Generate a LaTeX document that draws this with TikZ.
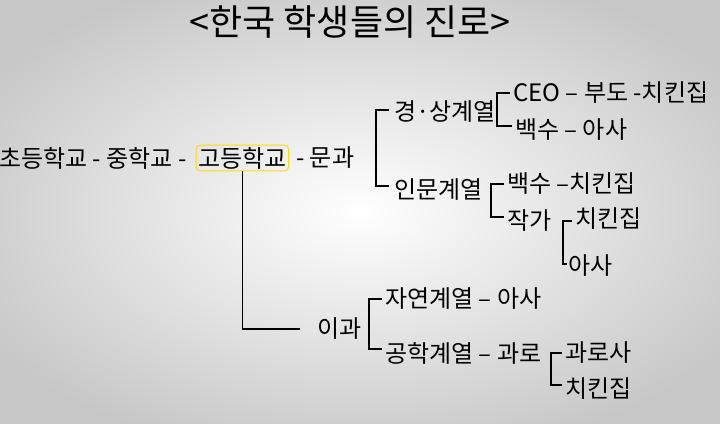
\documentclass[tikz,border=0pt]{standalone}
\usepackage{fontspec}
\setmainfont{Noto Sans CJK KR}
\usetikzlibrary{positioning}
\begin{document}
\begin{tikzpicture}[x=1pt,y=-1pt,
    txt/.style={anchor=west,inner sep=1pt,font=\fontsize{24}{24}\selectfont},
    brk/.style={line width=1.2pt}]
        \useasboundingbox (0,0) rectangle (720,423);
        \shade[inner color=white,outer color=black!22] (-80,-40) rectangle (800,463);

        \node[font=\fontsize{36}{36}\selectfont] (title) at (350,22) {<한국 학생들의 진로>};

        \node[txt] (row)  at (-2,158) {초등학교 - 중학교 -};
        \node[txt,draw=yellow!80!orange,line width=1pt,rounded corners=4pt,inner sep=2pt,right=8pt of row] (go) {고등학교};
        \node[txt,right=6pt of go] (mun) {- 문과};

        \node[txt] (ks)   at (393,112) {경·상계열};
        \node[txt] (ceo)  at (512,93)  {CEO – 부도 -치킨집};
        \node[txt] (bs1)  at (514,130) {백수 – 아사};
        \node[txt] (im)   at (393,190) {인문계열};
        \node[txt] (bs2)  at (506,184) {백수 –치킨집};
        \node[txt] (jk)   at (506,221) {작가};
        \node[txt] (ck1)  at (574,219) {치킨집};
        \node[txt] (as1)  at (567,266) {아사};

        \node[txt] (ig)   at (316,329) {이과};
        \node[txt] (jy)   at (384,299) {자연계열 – 아사};
        \node[txt] (gh)   at (384,353) {공학계열 – 과로};
        \node[txt] (gr)   at (564,353) {과로사};
        \node[txt] (ck2)  at (564,389) {치킨집};

        \draw[brk] (ks.west) ++(-4,-2) -- ++(-13,0) |- ([xshift=-4pt,yshift=4pt]im.west);
        \draw[brk] ([xshift=-2pt]ceo.west) -- ++(-13,0) |- ([xshift=-2pt,yshift=4pt]bs1.west);
        \draw[brk] ([xshift=-2pt]bs2.west) -- ++(-13,0) |- ([xshift=-2pt,yshift=4pt]jk.west);
        \draw[brk] ([xshift=-2pt,yshift=-2pt]ck1.west) -- ++(-9,0) |- ([yshift=2pt]as1.west);
        \draw[brk] (go.south) |- ([xshift=-16pt]ig.west);
        \draw[brk] ([xshift=-2pt]jy.west) -- ++(-13,0) |- ([xshift=-2pt,yshift=4pt]gh.west);
        \draw[brk] ([xshift=-2pt]gr.west) -- ++(-11,0) |- ([xshift=-2pt,yshift=4pt]ck2.west);
\end{tikzpicture}
\end{document}
